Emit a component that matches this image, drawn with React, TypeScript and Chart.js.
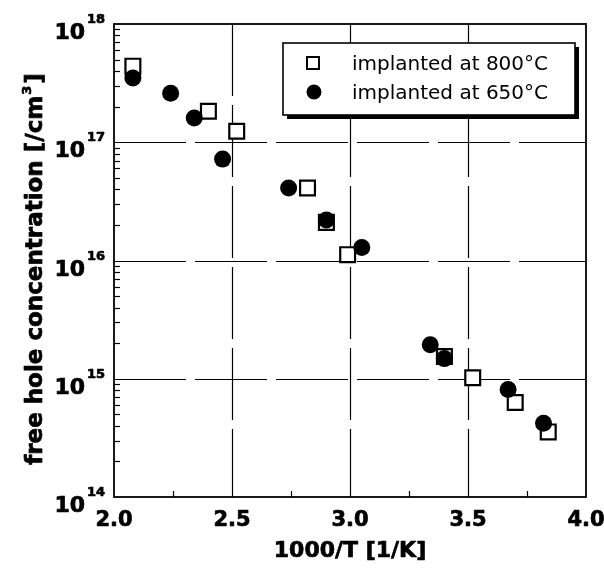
import { useEffect, useRef } from "react";
import { Chart, registerables } from "chart.js";

Chart.register(...registerables);

// Free hole concentration vs. inverse temperature
const implanted800X = [2.08, 2.40, 2.52, 2.82, 2.90, 2.99, 3.40, 3.52, 3.70, 3.84];
const implanted800Y = [4.4e17, 1.83e17, 1.24e17, 4.1e16, 2.1e16, 1.12e16, 1.54e15, 1.02e15, 6.3e14, 3.55e14];
const implanted650X = [2.08, 2.24, 2.34, 2.46, 2.74, 2.90, 3.05, 3.34, 3.40, 3.67, 3.82];
const implanted650Y = [3.5e17, 2.6e17, 1.6e17, 7.2e16, 4.1e16, 2.2e16, 1.29e16, 1.94e15, 1.48e15, 8.1e14, 4.2e14];

const xTicks = [2.0, 2.5, 3.0, 3.5, 4.0];
const xMinorTicks = [2.25, 2.75, 3.25, 3.75];
const yExponents = [14, 15, 16, 17, 18];
const legendLabels = ["implanted at 800°C", "implanted at 650°C"];
const xTitle = "1000/T [1/K]";
const yTitleMain = "free hole concentration [/cm";
const yTitleSup = "3";
const yTitleEnd = "]";

const FONT = '"DejaVu Sans", sans-serif';

// bold text with a thin outline for a heavier stroke
function heavyText(ctx: CanvasRenderingContext2D, text: string, x: number, y: number) {
  ctx.fillText(text, x, y);
  ctx.strokeText(text, x, y);
}

const decor = {
  id: "decor",
  beforeDatasetsDraw(chart: any) {
    const { ctx, chartArea: a, scales } = chart;
    const x = scales.x;
    const y = scales.y;
    ctx.save();
    ctx.strokeStyle = "#000";

    // broken grid lines at the major ticks
    ctx.lineWidth = 1.2;
    ctx.setLineDash([72, 9]);
    for (const v of xTicks.slice(1, -1)) {
      const px = Math.round(x.getPixelForValue(v)) + 0.5;
      ctx.beginPath();
      ctx.moveTo(px, a.top);
      ctx.lineTo(px, a.bottom);
      ctx.stroke();
    }
    for (const e of yExponents.slice(1, -1)) {
      const py = Math.round(y.getPixelForValue(Math.pow(10, e))) + 0.5;
      ctx.beginPath();
      ctx.moveTo(a.left, py);
      ctx.lineTo(a.right, py);
      ctx.stroke();
    }
    ctx.setLineDash([]);

    // inner minor ticks on the left axis
    ctx.lineWidth = 1.2;
    for (const e of yExponents.slice(0, -1)) {
      for (let m = 2; m <= 9; m++) {
        const py = Math.round(y.getPixelForValue(m * Math.pow(10, e))) + 0.5;
        ctx.beginPath();
        ctx.moveTo(a.left, py);
        ctx.lineTo(a.left + 6, py);
        ctx.stroke();
      }
    }
    // inner minor ticks on the bottom axis
    for (const v of xMinorTicks) {
      const px = Math.round(x.getPixelForValue(v)) + 0.5;
      ctx.beginPath();
      ctx.moveTo(px, a.bottom);
      ctx.lineTo(px, a.bottom - 6);
      ctx.stroke();
    }

    // frame
    ctx.lineWidth = 1.8;
    ctx.strokeRect(a.left, a.top, a.right - a.left, a.bottom - a.top);
    ctx.restore();
  },
  afterDatasetsDraw(chart: any) {
    const { ctx } = chart;
    ctx.save();
    // legend box with drop shadow
    const bx = 283, by = 43, bw = 292, bh = 72;
    ctx.fillStyle = "#000";
    ctx.fillRect(bx + 4, by + 4, bw, bh);
    ctx.fillStyle = "#fff";
    ctx.fillRect(bx, by, bw, bh);
    ctx.strokeStyle = "#000";
    ctx.lineWidth = 1.6;
    ctx.strokeRect(bx, by, bw, bh);

    // markers
    ctx.lineWidth = 2;
    ctx.strokeRect(307, 57, 12, 12);
    ctx.beginPath();
    ctx.arc(314, 92, 7.5, 0, Math.PI * 2);
    ctx.fillStyle = "#000";
    ctx.fill();

    ctx.font = `20px ${FONT}`;
    ctx.textAlign = "left";
    ctx.textBaseline = "alphabetic";
    ctx.fillText(legendLabels[0], 352, 70);
    ctx.fillText(legendLabels[1], 352, 99);
    ctx.restore();
  },
  afterDraw(chart: any) {
    const { ctx, chartArea: a, scales } = chart;
    const x = scales.x;
    const y = scales.y;
    ctx.save();
    ctx.fillStyle = "#000";
    ctx.strokeStyle = "#000";
    ctx.lineWidth = 0.7;
    ctx.lineJoin = "round";
    ctx.textBaseline = "alphabetic";

    // x tick labels
    ctx.font = `bold 21px ${FONT}`;
    ctx.textAlign = "center";
    for (const v of xTicks) {
      heavyText(ctx, v.toFixed(1), x.getPixelForValue(v), 526);
    }

    // y tick labels: 10 with superscript exponent
    for (const e of yExponents) {
      const py = y.getPixelForValue(Math.pow(10, e));
      ctx.font = `bold 22px ${FONT}`;
      ctx.textAlign = "right";
      heavyText(ctx, "10", 85, py + 15);
      ctx.font = `bold 13px ${FONT}`;
      ctx.textAlign = "left";
      heavyText(ctx, String(e), 87, py - 1);
    }

    // x title
    ctx.font = `bold 22px ${FONT}`;
    ctx.textAlign = "center";
    heavyText(ctx, xTitle, (a.left + a.right) / 2, 557);

    // y title, rotated, with superscript
    ctx.translate(42, 269);
    ctx.rotate(-Math.PI / 2);
    const mainFont = `bold 23px ${FONT}`;
    const supFont = `bold 13px ${FONT}`;
    ctx.font = mainFont;
    const w1 = ctx.measureText(yTitleMain).width;
    const w3 = ctx.measureText(yTitleEnd).width;
    ctx.font = supFont;
    const w2 = ctx.measureText(yTitleSup).width + 3;
    let cx = -(w1 + w2 + w3) / 2;
    ctx.textAlign = "left";
    ctx.font = mainFont;
    heavyText(ctx, yTitleMain, cx, 0);
    cx += w1;
    ctx.font = supFont;
    heavyText(ctx, yTitleSup, cx + 1, -11);
    cx += w2;
    ctx.font = mainFont;
    heavyText(ctx, yTitleEnd, cx, 0);
    ctx.restore();
  },
};

export default function App() {
  const canvasRef = useRef<HTMLCanvasElement | null>(null);

  useEffect(() => {
    const canvas = canvasRef.current;
    if (!canvas) return;
    const chart = new Chart(canvas, {
      type: "scatter",
      data: {
        datasets: [
          {
            label: legendLabels[0],
            data: implanted800X.map((v, i) => ({ x: v, y: implanted800Y[i] })),
            pointStyle: "rect",
            pointRadius: 10.5,
            backgroundColor: "#fff",
            borderColor: "#000",
            borderWidth: 2.2,
            order: 2,
          },
          {
            label: legendLabels[1],
            data: implanted650X.map((v, i) => ({ x: v, y: implanted650Y[i] })),
            pointStyle: "circle",
            pointRadius: 8.5,
            backgroundColor: "#000",
            borderColor: "#000",
            borderWidth: 0,
            order: 1,
          },
        ],
      },
      options: {
        responsive: false,
        animation: false,
        events: [],
        devicePixelRatio: 1,
        layout: { padding: { left: 114, top: 24, right: 18, bottom: 75 } },
        scales: {
          x: { type: "linear", min: 2, max: 4, display: false },
          y: { type: "logarithmic", min: 1e14, max: 1e18, display: false },
        },
        plugins: {
          legend: { display: false },
          tooltip: { enabled: false },
        },
      },
      plugins: [decor],
    });
    return () => chart.destroy();
  }, []);

  return (
    <div style={{ position: "fixed", left: 0, top: 0, width: 604, height: 572, background: "#fff" }}>
      <canvas ref={canvasRef} width={604} height={572} style={{ display: "block" }} />
    </div>
  );
}
